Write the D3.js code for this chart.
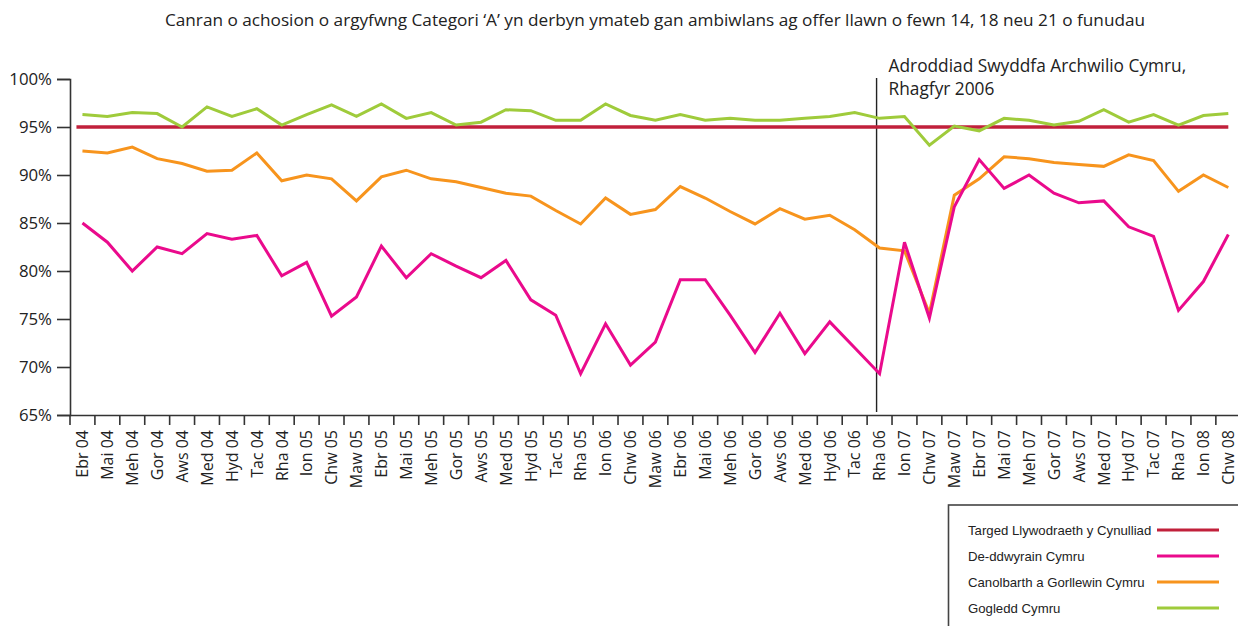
<!DOCTYPE html>
<html><head><meta charset="utf-8">
<script src="https://cdn.jsdelivr.net/npm/d3@7"></script>
<style>
html,body{margin:0;padding:0;background:#fff;}
svg{display:block;}
</style></head>
<body>
<svg id="chart" width="1238" height="626"></svg>
<script>
const months = ["Ebr 04","Mai 04","Meh 04","Gor 04","Aws 04","Med 04","Hyd 04","Tac 04","Rha 04","Ion 05","Chw 05","Maw 05","Ebr 05","Mai 05","Meh 05","Gor 05","Aws 05","Med 05","Hyd 05","Tac 05","Rha 05","Ion 06","Chw 06","Maw 06","Ebr 06","Mai 06","Meh 06","Gor 06","Aws 06","Med 06","Hyd 06","Tac 06","Rha 06","Ion 07","Chw 07","Maw 07","Ebr 07","Mai 07","Meh 07","Gor 07","Aws 07","Med 07","Hyd 07","Tac 07","Rha 07","Ion 08","Chw 08"];
const targetValue = 95;
const gogledd = [96.3,96.1,96.5,96.4,95.0,97.1,96.1,96.9,95.2,96.3, 97.3,96.1,97.4,95.9,96.5,95.2,95.5,96.8,96.7,95.7, 95.7,97.4,96.2,95.7,96.3,95.7,95.9,95.7,95.7,95.9, 96.1,96.5,95.9,96.1,93.1,95.1,94.6,95.9,95.7,95.2, 95.6,96.8,95.5,96.3,95.2,96.2,96.4];
const canolbarth = [92.5,92.3,92.9,91.7,91.2,90.4,90.5,92.3,89.4,90.0, 89.6,87.3,89.8,90.5,89.6,89.3,88.7,88.1,87.8,86.3, 84.9,87.6,85.9,86.4,88.8,87.6,86.2,84.9,86.5,85.4, 85.8,84.3,82.4,82.1,75.6,87.9,89.6,91.9,91.7,91.3, 91.1,90.9,92.1,91.5,88.3,90.0,88.7];
const deddwyrain = [85.0,83.0,80.0,82.5,81.8,83.9,83.3,83.7,79.5,80.9, 75.3,77.3,82.6,79.3,81.8,80.5,79.3,81.1,77.0,75.4, 69.3,74.5,70.2,72.6,79.1,79.1,75.4,71.5,75.6,71.4, 74.7,72.0,69.3,83.0,75.1,86.7,91.6,88.6,90.0,88.1, 87.1,87.3,84.6,83.6,75.9,78.9,83.8];
const yTicks = [65,70,75,80,85,90,95,100];
const seriesNames = ["Targed Llywodraeth y Cynulliad","De-ddwyrain Cymru","Canolbarth a Gorllewin Cymru","Gogledd Cymru"];
const seriesColors = ["#c1203b","#ea0a8c","#f7941d","#9fcb3b"];
const titleText = "Canran o achosion o argyfwng Categori \u2018A\u2019 yn derbyn ymateb gan ambiwlans ag offer llawn o fewn 14, 18 neu 21 o funudau";
const annotationLines = ["Adroddiad Swyddfa Archwilio Cymru,","Rhagfyr 2006"];
const annotationMonth = "Rha 06";

const svg = d3.select("#chart");
const mLeft = 70, mTop = 79, mBottom = 415;
const step = 24.91;
const x = d3.scaleBand().domain(months).range([mLeft, mLeft + step*months.length]).padding(0);
const xc = m => x(m) + x.bandwidth()/2;
const y = d3.scaleLinear().domain([65,100]).range([mBottom, mTop]);
const axisColor = "#333";
const font = "'Open Sans', sans-serif";

// title
svg.append("text").attr("x", 655).attr("y", 26).attr("text-anchor","middle")
  .attr("font-family", font).attr("font-size", 17.2).attr("fill","#222").text(titleText);

// y axis
const yAxis = svg.append("g").attr("transform", `translate(${mLeft},0)`)
  .call(d3.axisLeft(y).tickValues(yTicks).tickSize(13).tickPadding(5).tickFormat(d => d + "%"));
yAxis.selectAll("path").attr("stroke", axisColor).attr("stroke-width", 1.6);
yAxis.selectAll("line").attr("stroke", axisColor).attr("stroke-width", 1.6);
yAxis.selectAll("text").attr("font-family", font).attr("font-size", 16.8).attr("fill","#222");

// x axis
const xAxis = svg.append("g").attr("transform", `translate(0,${mBottom})`)
  .call(d3.axisBottom(x).tickSize(0).tickSizeOuter(0));
xAxis.selectAll("path").attr("stroke", axisColor).attr("stroke-width", 1.6);
xAxis.selectAll("text")
  .attr("font-family", font).attr("font-size", 16).attr("fill","#222")
  .attr("text-anchor","end").attr("transform","rotate(-90)")
  .attr("x", -15).attr("y", 0).attr("dy","0.36em");
svg.append("g").selectAll("line").data(months).join("line")
  .attr("x1", d => x(d)).attr("x2", d => x(d))
  .attr("y1", mBottom).attr("y2", mBottom + 10)
  .attr("stroke", axisColor).attr("stroke-width", 1.6);

// annotation vertical line
const ax = xc(annotationMonth) - 3;
svg.append("line").attr("x1", ax).attr("x2", ax).attr("y1", y(100) - 1).attr("y2", mBottom - 3)
  .attr("stroke", "#222").attr("stroke-width", 1.4);
svg.append("g").selectAll("text").data(annotationLines).join("text")
  .attr("x", ax + 12).attr("y", (d,i) => 72 + i*23)
  .attr("font-family", font).attr("font-size", 17.3).attr("fill","#222").text(d => d);

// lines
const line = d3.line().x((d,i) => xc(months[i])).y(d => y(d)).curve(d3.curveLinear);
const g = svg.append("g").attr("fill","none").attr("stroke-linejoin","miter").attr("stroke-miterlimit", 4);
g.append("line").attr("x1", xc(months[0]) - 6).attr("x2", xc(months[months.length-1]))
  .attr("y1", y(targetValue)).attr("y2", y(targetValue))
  .attr("stroke", seriesColors[0]).attr("stroke-width", 3.6);
g.append("path").datum(gogledd).attr("d", line).attr("stroke", seriesColors[3]).attr("stroke-width", 3);
g.append("path").datum(canolbarth).attr("d", line).attr("stroke", seriesColors[2]).attr("stroke-width", 3);
g.append("path").datum(deddwyrain).attr("d", line).attr("stroke", seriesColors[1]).attr("stroke-width", 3);

// legend
const lg = svg.append("g");
lg.append("rect").attr("x", 948.5).attr("y", 505).attr("width", 300).attr("height", 140)
  .attr("fill","#fff").attr("stroke","#444").attr("stroke-width", 1.6);
const rows = lg.selectAll("g.row").data(seriesNames).join("g").attr("class","row")
  .attr("transform", (d,i) => `translate(0,${530 + i*26})`);
rows.append("text").attr("x", 968).attr("y", 0).attr("dy","0.35em")
  .attr("font-family","'Liberation Sans', Arial, sans-serif").attr("font-size", 13.2).attr("fill","#222").text(d => d);
rows.append("line").attr("x1", 1157).attr("x2", 1219).attr("y1", 0).attr("y2", 0)
  .attr("stroke", (d,i) => seriesColors[i]).attr("stroke-width", 3);
</script>
</body></html>
